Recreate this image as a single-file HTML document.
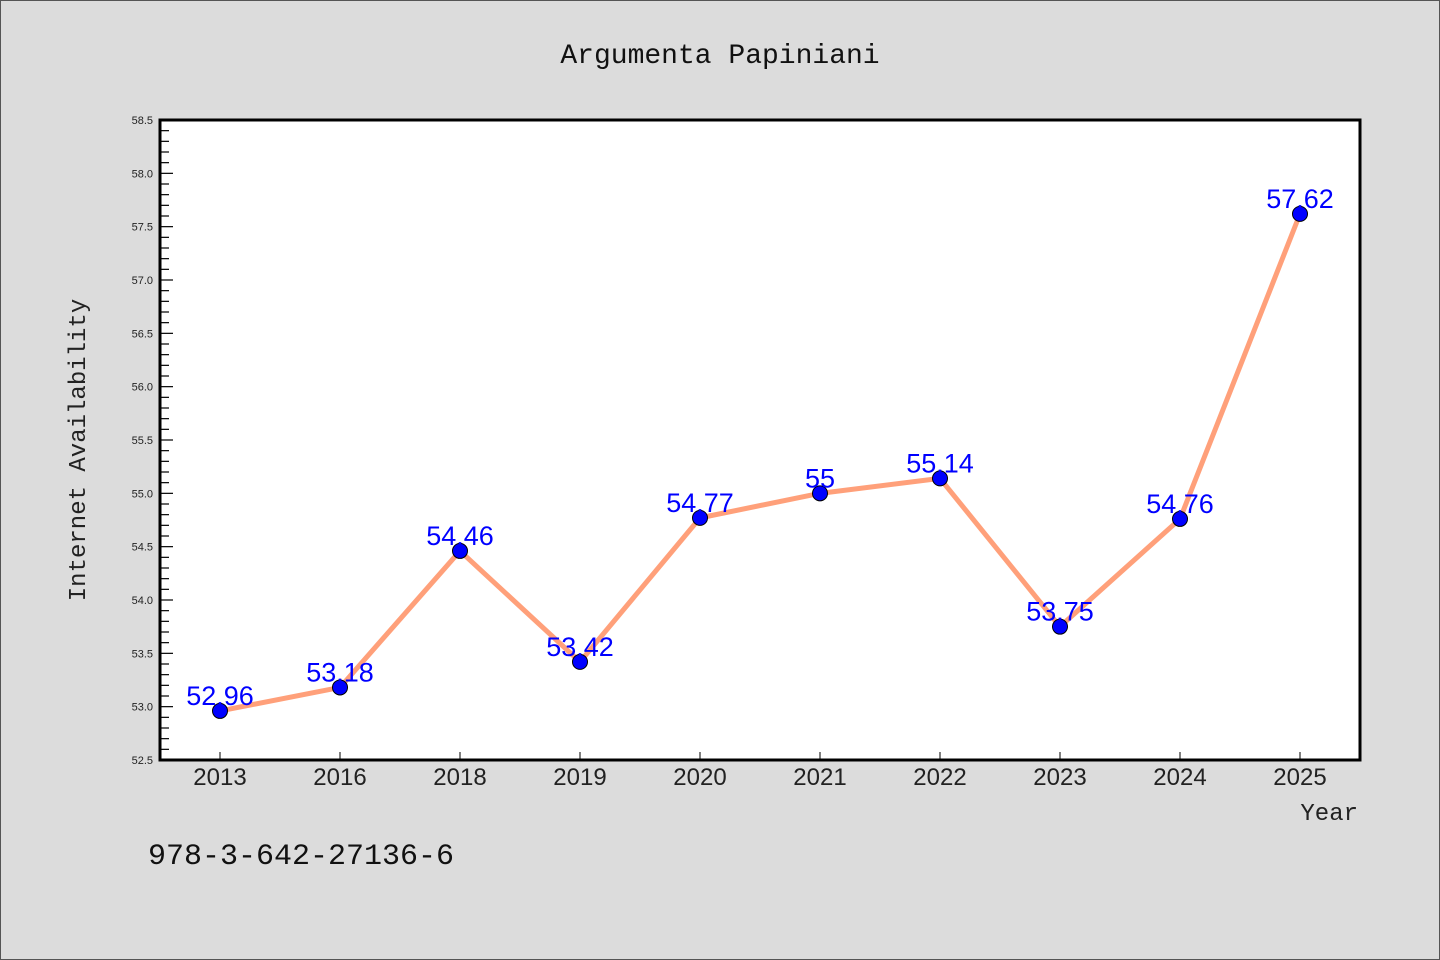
<!DOCTYPE html>
<html><head><meta charset="utf-8"><style>
html,body{margin:0;padding:0;background:#dcdcdc;}
svg{display:block;}
text{font-family:"Liberation Sans","WenQuanYi Zen Hei",sans-serif;}
</style></head><body>
<svg id="chart" width="1440" height="960" xmlns="http://www.w3.org/2000/svg">
<rect x="0.5" y="0.5" width="1439" height="959" fill="#dcdcdc" stroke="#555" stroke-width="1"/>
<text x="720" y="63" text-anchor="middle" font-size="28" fill="#111" style="font-family:'Liberation Mono',monospace">Argumenta Papiniani</text>
<rect x="160" y="120" width="1200" height="640" fill="#fff"/>
<g id="yaxis"></g>
<g id="xaxis"></g>
<g id="series"></g>
<rect x="160" y="120" width="1200" height="640" fill="none" stroke="#000" stroke-width="3"/>
<text x="0" y="0" transform="translate(85,450) rotate(-90)" text-anchor="middle" font-size="24" fill="#222" style="font-family:'Liberation Mono',monospace">Internet Availability</text>
<text x="1358" y="820" text-anchor="end" font-size="24" fill="#222" style="font-family:'Liberation Mono',monospace">Year</text>
<text x="148" y="864" font-size="30" fill="#111" style="font-family:'Liberation Mono',monospace">978-3-642-27136-6</text>
</svg>
<script>
const categories = ["2013","2016","2018","2019","2020","2021","2022","2023","2024","2025"];
const values = [52.96,53.18,54.46,53.42,54.77,55,55.14,53.75,54.76,57.62];
const valueLabels = ["52.96","53.18","54.46","53.42","54.77","55","55.14","53.75","54.76","57.62"];
const yTicks = ["52.5","53.0","53.5","54.0","54.5","55.0","55.5","56.0","56.5","57.0","57.5","58.0","58.5"];
const yMin = 52.5, yMax = 58.5;
const NS = "http://www.w3.org/2000/svg";
const L=160,R=1360,T=120,B=760;
function yScale(v){return B-(v-yMin)/(yMax-yMin)*(B-T);}
function xScale(i){const bw=(R-L)/categories.length;return L+bw*(i+0.5);}
function mk(tag,attrs,parent){const e=document.createElementNS(NS,tag);for(const k in attrs)e.setAttribute(k,attrs[k]);parent.appendChild(e);return e;}
const ya=document.getElementById('yaxis'),xa=document.getElementById('xaxis'),sg=document.getElementById('series');
for(let v=yMin; v<=yMax+1e-9; v+=0.1){
  const y=yScale(v);const major=Math.abs(v*2-Math.round(v*2))<1e-6;
  const t=mk('line',{x1:L,x2:L+(major?13:9),y1:y,y2:y,stroke:'#000','stroke-width':1.2},ya);
  
  
}
yTicks.forEach(s=>{
  const t=mk('text',{x:153,y:yScale(parseFloat(s))+4,'text-anchor':'end','font-size':11,fill:'#222'},ya);
  t.textContent=s;
  
  
});
categories.forEach((c,i)=>{
  const x=xScale(i);
  const t=mk('line',{x1:x,x2:x,y1:B,y2:B-8,stroke:'#000','stroke-width':1},xa);
  
  
  const lb=mk('text',{x:x,y:785,'text-anchor':'middle','font-size':24,fill:'#222'},xa);
  lb.textContent=c;
  
  
});
const pts=values.map((v,i)=>xScale(i)+','+yScale(v)).join(' ');
const pl=mk('polyline',{points:pts,fill:'none',stroke:'#ffa07a','stroke-width':5,'stroke-linejoin':'round'},sg);


values.forEach((v,i)=>{
  const c=mk('circle',{cx:xScale(i),cy:yScale(v),r:7.5,fill:'#0000ff',stroke:'#000','stroke-width':1},sg);
  
  
});
values.forEach((v,i)=>{
  const t=mk('text',{x:xScale(i),y:yScale(v)-6,'text-anchor':'middle','font-size':27,fill:'#0000ff'},sg);
  t.textContent=valueLabels[i];
  
  
});
</script>
</body></html>
